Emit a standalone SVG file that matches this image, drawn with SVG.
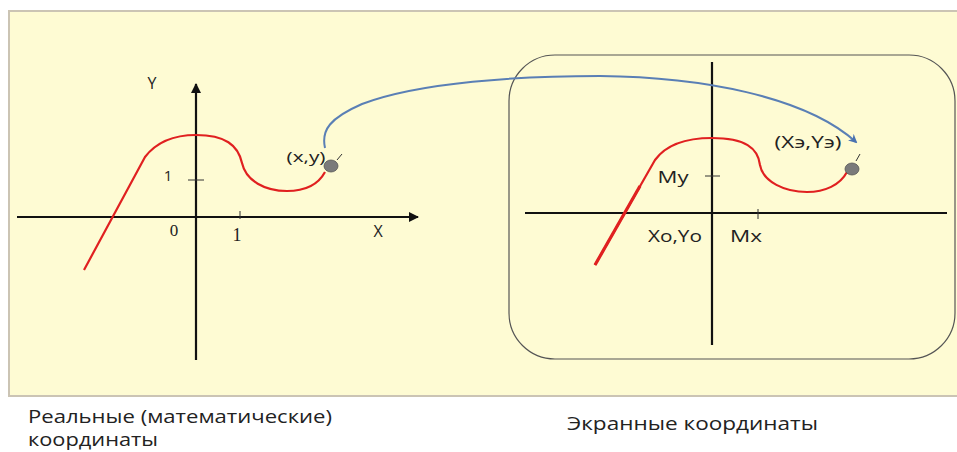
<svg xmlns="http://www.w3.org/2000/svg" width="957" height="452" viewBox="0 0 957 452">
<style>
.bg{fill:#fefbd3;stroke:#cbc4b4;stroke-width:2}
.ax{stroke:#111;stroke-width:2.2;fill:none}
.tk{stroke:#333;stroke-width:1;fill:none}
.red{stroke:#e02020;stroke-width:2.2;fill:none;stroke-linejoin:round}
.blue{stroke:#5a7fb5;stroke-width:2;fill:none}
.dot{fill:#7a7a7a;stroke:#555;stroke-width:0.8}
.t{font-family:"Open Sans","Noto Sans",sans-serif;fill:#222}
.s{font-family:"Liberation Serif",serif;fill:#222}
</style>
<defs>
<marker id="ah" viewBox="0 0 10 10" refX="9" refY="5" markerWidth="10" markerHeight="10" markerUnits="userSpaceOnUse" orient="auto">
<path d="M0,0 L10,5 L0,10 Z" fill="#111"/>
</marker>
<marker id="bh" viewBox="0 0 10 10" refX="8" refY="5" markerWidth="9" markerHeight="9" markerUnits="userSpaceOnUse" orient="auto">
<path d="M0,0 L10,5 L0,10 L3,5 Z" fill="#4a72b0"/>
</marker>
</defs>
<rect x="9" y="11" width="950" height="385" class="bg"/>
<g id="real">
<line x1="17" y1="217" x2="418" y2="217" class="ax" marker-end="url(#ah)"/>
<line x1="196" y1="360" x2="196" y2="84" class="ax" marker-end="url(#ah)"/>
<line x1="240" y1="211" x2="240" y2="219" class="tk"/>
<line x1="188" y1="180" x2="204" y2="180" class="tk"/>
<text x="152" y="89" class="t" font-size="16" text-anchor="middle">Y</text>
<text x="378" y="237" class="t" font-size="16" text-anchor="middle">X</text>
<text x="174" y="236" class="s" font-size="17" text-anchor="middle">0</text>
<text x="237" y="241" class="s" font-size="18" text-anchor="middle">1</text>
<text x="168" y="181" class="t" font-size="15" text-anchor="middle">1</text>
<path d="M84,270 L145,157 C158,140 178,135 196,135 C225,135 238,145 242,163 C246,181 265,191 287,191 C305,191 318,185 325,172" class="red"/>
<ellipse cx="331" cy="166" rx="7" ry="6" class="dot"/>
<line x1="337" y1="160" x2="342" y2="154" class="tk"/>
<text x="306" y="162" class="t" font-size="15" text-anchor="middle" textLength="39" lengthAdjust="spacingAndGlyphs">(x,y)</text>
</g>
<g id="screen">
<rect x="509" y="55" width="446" height="304" rx="46" ry="46" fill="none" stroke="#555" stroke-width="1.2"/>
<line x1="525" y1="213" x2="947" y2="213" class="ax"/>
<line x1="712" y1="62" x2="712" y2="345" class="ax"/>
<line x1="758" y1="209" x2="758" y2="219" class="tk"/>
<line x1="705" y1="176" x2="720" y2="176" class="tk"/>
<path d="M595,265 L655,160 C668,142 690,138 712,138 C745,138 758,148 760,165 C763,182 785,192 807,192 C825,192 840,185 847,172" class="red"/>
<path d="M595,265 L640,186" stroke="#e02020" stroke-width="3.2" fill="none"/>
<ellipse cx="852" cy="169" rx="7" ry="6" class="dot"/>
<line x1="856" y1="161" x2="860" y2="154" class="tk"/>
<text x="673" y="183" class="t" font-size="17" text-anchor="middle" textLength="31" lengthAdjust="spacingAndGlyphs">My</text>
<text x="675" y="242" class="t" font-size="17" text-anchor="middle" textLength="54" lengthAdjust="spacingAndGlyphs">Xo,Yo</text>
<text x="746" y="242" class="t" font-size="17" text-anchor="middle" textLength="32" lengthAdjust="spacingAndGlyphs">Mx</text>
<text x="808" y="148" class="t" font-size="16" text-anchor="middle" textLength="67" lengthAdjust="spacingAndGlyphs">(Xэ,Yэ)</text>
</g>
<g id="connectors">
<path d="M325,148 C321,130 330,118 362,104 C420,82 520,76 600,76 C700,77 805,96 856,142" class="blue" marker-end="url(#bh)"/>
</g>
<g id="captions">
<text x="28" y="423" class="t" font-size="18" textLength="304" lengthAdjust="spacingAndGlyphs">Реальные (математические)</text>
<text x="28" y="446" class="t" font-size="18" textLength="130" lengthAdjust="spacingAndGlyphs">координаты</text>
<text x="567" y="430" class="t" font-size="18" textLength="251" lengthAdjust="spacingAndGlyphs">Экранные  координаты</text>
</g>
</svg>
